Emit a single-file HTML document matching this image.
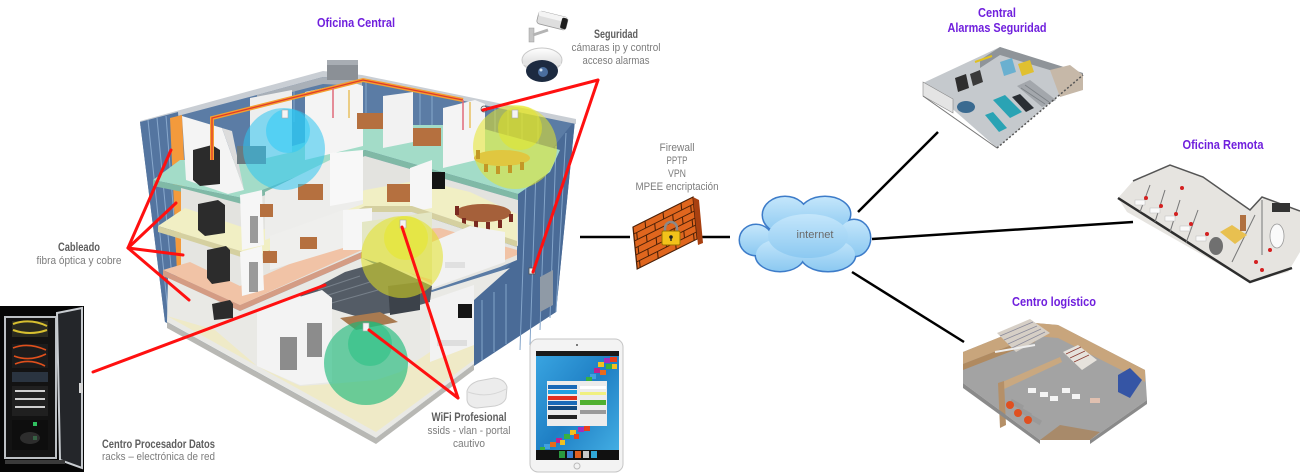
<!DOCTYPE html>
<html><head><meta charset="utf-8">
<style>
html,body{margin:0;padding:0;background:#fff;}
svg{display:block;}
text{font-family:"Liberation Sans",Arial,sans-serif;}
</style></head><body>
<svg xmlns="http://www.w3.org/2000/svg" width="1300" height="474" viewBox="0 0 1300 474">
<defs>
<linearGradient id="cloudG" x1="0" y1="0" x2="0" y2="1"><stop offset="0" stop-color="#c4e6fb"/><stop offset="1" stop-color="#8cc9f1"/></linearGradient>
<linearGradient id="scrG" x1="0" y1="0" x2="1" y2="1"><stop offset="0" stop-color="#3aa6e2"/><stop offset="0.5" stop-color="#1f7fc4"/><stop offset="1" stop-color="#46b2e6"/></linearGradient>
<linearGradient id="domeG" x1="0" y1="0" x2="0" y2="1"><stop offset="0" stop-color="#ffffff"/><stop offset="1" stop-color="#cfcfcf"/></linearGradient>
</defs>
<rect width="1300" height="474" fill="#fff"/>

<!-- ================= BUILDING ================= -->
<polygon points="140,122 257,90 323,72 362,76 575,120 556,312 474,364 376,438 165,322" fill="#5b7ca5"/>
<polygon points="518,192 575,120 556,312 474,366 474,300 512,262 518,247" fill="#4a6b97"/>
<g stroke="#83a4c9" stroke-width="1">
<line x1="526" y1="182" x2="520" y2="350"/><line x1="536" y1="170" x2="530" y2="345"/><line x1="546" y1="158" x2="540" y2="330"/><line x1="556" y1="146" x2="550" y2="318"/><line x1="566" y1="133" x2="556" y2="312"/>
<line x1="482" y1="300" x2="482" y2="360"/><line x1="494" y1="292" x2="494" y2="352"/><line x1="506" y1="284" x2="506" y2="344"/>
</g>
<polygon points="540,277 553,270 553,305 540,312" fill="#8f9aa6"/>
<g stroke="#86a7cb" stroke-width="1">
<line x1="262" y1="90" x2="262" y2="130"/><line x1="272" y1="88" x2="272" y2="128"/><line x1="282" y1="85" x2="282" y2="125"/><line x1="294" y1="82" x2="294" y2="122"/><line x1="366" y1="78" x2="366" y2="120"/><line x1="420" y1="88" x2="420" y2="128"/><line x1="432" y1="91" x2="432" y2="128"/><line x1="495" y1="104" x2="495" y2="150"/><line x1="508" y1="107" x2="508" y2="150"/><line x1="522" y1="110" x2="522" y2="150"/><line x1="538" y1="113" x2="538" y2="160"/>
</g>
<polygon points="140,121 257,89 323,71 362,75 576,119 576,124 362,80 323,77 257,95 140,126" fill="#c9ced4"/>
<polygon points="257,95 323,77 362,80 362,86 323,84 257,101" fill="#a9b0b8"/>
<rect x="327" y="60" width="31" height="20" fill="#8b9096"/>
<rect x="327" y="60" width="31" height="5" fill="#a8adb3"/>
<polygon points="140,122 178,112 190,318 165,322" fill="#5475a0"/>
<g stroke="#88a8cc" stroke-width="1"><line x1="148" y1="120" x2="169" y2="321"/><line x1="157" y1="118" x2="176" y2="320"/><line x1="166" y1="116" x2="182" y2="319"/></g>
<polygon points="170,118 182,115 191,316 179,318" fill="#f39a3c"/>

<!-- LEVEL 4 -->
<polygon points="153,180 242,198 365,150 518,194 550,172 560,150 470,125 365,125 244,160 180,160" fill="#a3dcc8"/>
<polygon points="182,116 222,128 244,190 228,194 186,180" fill="#f4f4f4"/>
<polygon points="222,128 232,131 244,190" fill="#dcdcdc"/>
<polygon points="250,98 292,90 292,152 250,162" fill="#eeeeee"/>
<polygon points="305,92 352,82 363,86 363,146 305,160" fill="#f4f4f4"/>
<polygon points="383,96 413,92 413,142 383,148" fill="#f2f2f2"/>
<polygon points="443,108 475,100 485,104 485,158 443,168" fill="#f4f4f4"/>
<rect x="237" y="146" width="29" height="18" fill="#6b7a80"/>
<rect x="357" y="113" width="26" height="16" fill="#b5703f"/>
<rect x="413" y="128" width="28" height="18" fill="#b5703f"/>
<ellipse cx="502" cy="158" rx="28" ry="8" fill="#d9a35c"/>
<g fill="#9a3a22"><rect x="476" y="150" width="4" height="9"/><rect x="484" y="164" width="4" height="8"/><rect x="496" y="166" width="4" height="8"/><rect x="508" y="165" width="4" height="8"/><rect x="520" y="162" width="4" height="8"/></g>
<polygon points="193,150 212,145 220,150 220,184 200,186 193,180" fill="#2b2b2b"/>
<polyline points="212,160 212,118 363,80 463,100" fill="none" stroke="#f5a030" stroke-width="4"/>
<polyline points="212,160 212,118 363,80 463,100" fill="none" stroke="#e03a2a" stroke-width="1.3"/>
<line x1="333" y1="88" x2="333" y2="118" stroke="#e06a7a" stroke-width="1.5"/>
<line x1="349" y1="90" x2="349" y2="118" stroke="#e8c060" stroke-width="1.5"/>
<line x1="463" y1="100" x2="463" y2="130" stroke="#e06a7a" stroke-width="1.5"/>
<line x1="470" y1="102" x2="470" y2="128" stroke="#e8c060" stroke-width="1.5"/>
<polygon points="153,180 242,198 365,150 518,194 518,200 365,156 242,204 153,186" fill="#80b9a6"/>

<!-- LEVEL 3 -->
<polygon points="181,188 242,204 365,156 518,200 518,246 412,212 366,212 257,262 181,236" fill="#e3e3df"/>
<polygon points="158,226 257,256 365,206 412,206 517,241 517,214 470,192 420,180 365,190 257,232 185,208" fill="#f1efc4"/>
<polygon points="240,195 262,190 264,245 242,250" fill="#f6f6f6"/>
<rect x="250" y="216" width="8" height="27" fill="#9a9a9a"/>
<polygon points="265,192 330,160 363,154 363,204 265,240" fill="#ededeb"/>
<polygon points="330,153 363,150 363,200 330,206" fill="#f8f8f8"/>
<polygon points="410,168 432,160 432,208 410,212" fill="#f6f6f6"/>
<rect x="432" y="172" width="13" height="17" fill="#141414"/>
<rect x="298" y="184" width="25" height="16" fill="#b5703f"/>
<rect x="387" y="184" width="23" height="18" fill="#b5703f"/>
<rect x="260" y="204" width="13" height="13" fill="#b5703f"/>
<ellipse cx="483" cy="213" rx="28" ry="9" fill="#a5603a"/>
<g fill="#7a2a20"><rect x="455" y="206" width="4" height="9"/><rect x="462" y="218" width="4" height="8"/><rect x="474" y="221" width="4" height="8"/><rect x="486" y="222" width="4" height="8"/><rect x="498" y="220" width="4" height="8"/><rect x="509" y="214" width="4" height="8"/></g>
<polygon points="198,204 218,200 225,205 225,233 205,236 198,230" fill="#2c2c2c"/>
<polygon points="158,226 257,256 365,206 412,206 517,241 517,247 412,212 365,212 257,262 158,232" fill="#d5d0a0"/>

<!-- LEVEL 2 -->
<polygon points="181,238 257,262 365,212 412,212 517,247 517,260 500,267 432,290 362,252 240,306 181,278" fill="#e5e5e1"/>
<polygon points="163,270 240,305 362,250 432,284 500,262 517,255 517,250 440,228 362,232 240,286 190,262" fill="#f1c3a6"/>
<polygon points="240,252 262,246 264,290 242,296" fill="#f6f6f6"/>
<rect x="249" y="262" width="9" height="30" fill="#9a9a9a"/>
<polygon points="270,236 343,210 343,248 270,270" fill="#efefed"/>
<polygon points="343,210 372,208 372,250 343,250" fill="#f6f6f6"/>
<polygon points="362,222 432,212 432,280 362,258" fill="#e4e7c4"/>
<polygon points="432,242 470,226 505,232 505,262 432,288" fill="#f2f2f2"/>
<rect x="263" y="251" width="14" height="12" fill="#b5703f"/>
<rect x="300" y="237" width="17" height="12" fill="#b5703f"/>
<rect x="445" y="262" width="20" height="6" fill="#e0e0e0"/>
<polygon points="207,250 226,246 230,250 230,281 212,284 207,278" fill="#2c2c2c"/>
<polygon points="163,270 240,305 362,252 362,258 240,311 163,276" fill="#d49c84"/>

<!-- LEVEL 1 -->
<polygon points="168,278 240,311 362,258 432,292 510,268 474,300 474,364 376,438 167,322" fill="#e9e9e5"/>
<polygon points="167,316 376,432 474,360 474,340 430,352 400,372 376,380 330,384 300,386 257,366 215,330" fill="#efeac7"/>
<polygon points="300,296 345,272 380,262 432,286 430,302 395,312 362,318 322,306" fill="#545c66"/>
<polygon points="388,286 420,282 420,310 390,315" fill="#3c424a"/>
<g stroke="#77808a" stroke-width="1"><line x1="318" y1="290" x2="360" y2="276"/><line x1="322" y1="297" x2="370" y2="282"/><line x1="328" y1="304" x2="378" y2="290"/></g>
<polygon points="340,318 380,312 398,322 356,330" fill="#a87a50"/>
<polygon points="257,310 322,290 332,298 332,382 300,385 257,366" fill="#f3f3f3"/>
<rect x="280" y="337" width="17" height="33" fill="#8c8c8c"/>
<rect x="307" y="323" width="15" height="34" fill="#8c8c8c"/>
<polygon points="430,300 474,285 474,345 430,362" fill="#f2f2f2"/>
<rect x="458" y="304" width="14" height="14" fill="#151515"/>
<rect x="437" y="340" width="30" height="6" fill="#dedede"/>
<polygon points="212,304 230,300 233,304 233,318 214,320" fill="#2c2c2c"/>
<polygon points="167,322 376,438 474,364 474,370 376,444 167,328" fill="#b8b8b4"/>

<!-- wifi circles -->
<circle cx="284" cy="149" r="41" fill="#2ec4f0" opacity="0.55"/>
<circle cx="288" cy="131" r="22" fill="#2ecaf5" opacity="0.55"/>
<circle cx="515" cy="147" r="42" fill="#e6e62a" opacity="0.55"/>
<circle cx="520" cy="128" r="22" fill="#e8e820" opacity="0.5"/>
<circle cx="402" cy="257" r="41" fill="#e2e224" opacity="0.55"/>
<circle cx="406" cy="238" r="22" fill="#e8e820" opacity="0.5"/>
<circle cx="366" cy="363" r="42" fill="#18b878" opacity="0.62"/>
<circle cx="370" cy="344" r="22" fill="#20c080" opacity="0.5"/>
<g fill="#f4f4f4" stroke="#aaa" stroke-width="0.6">
<rect x="282" y="110" width="6" height="8"/><rect x="512" y="110" width="6" height="8"/><rect x="400" y="220" width="6" height="8"/><rect x="363" y="323" width="6" height="8"/>
</g>
<circle cx="484" cy="109" r="3" fill="#f0f0f0" stroke="#555" stroke-width="0.8"/>
<rect x="529" y="268" width="6" height="6" fill="#f0f0f0" stroke="#555" stroke-width="0.8"/>

<!-- ceiling AP -->
<path d="M467 391 Q469 384 478 381 L494 378 Q505 379 507 387 L506 398 Q504 404 495 406 L477 408 Q468 407 467 400 Z" fill="#ececec" stroke="#cdcdcd"/>
<path d="M468 392 Q488 399 506 389" stroke="#d6d6d6" fill="none"/>

<!-- red lines -->
<g stroke="#ff1010" stroke-width="3" stroke-linecap="round">
<line x1="128" y1="248" x2="171" y2="150"/>
<line x1="128" y1="248" x2="176" y2="203"/>
<line x1="128" y1="248" x2="183" y2="255"/>
<line x1="128" y1="248" x2="189" y2="300"/>
<line x1="93" y1="372" x2="325" y2="285"/>
<line x1="598" y1="80" x2="483" y2="110"/>
<line x1="598" y1="80" x2="533" y2="272"/>
<line x1="458" y1="398" x2="402" y2="227"/>
<line x1="458" y1="398" x2="369" y2="330"/>
</g>

<!-- ================= RACK ================= -->
<rect x="0" y="306" width="84" height="166" fill="#060606"/>
<rect x="5" y="317" width="51" height="141" fill="#131313" stroke="#bcc0c4" stroke-width="2"/>
<rect x="12" y="321" width="36" height="16" fill="#2a2a20"/>
<path d="M13 324 Q30 318 47 326 M13 330 Q30 336 47 330" stroke="#d8c030" stroke-width="2" fill="none"/>
<rect x="12" y="344" width="36" height="24" fill="#1c1c1c"/>
<path d="M13 348 Q28 342 46 350 M14 356 Q30 362 46 354 M15 364 Q30 358 45 366" stroke="#e0501c" stroke-width="1.6" fill="none"/>
<rect x="12" y="372" width="36" height="10" fill="#2a3440"/>
<rect x="12" y="386" width="36" height="30" fill="#202020"/>
<g fill="#cfcfcf"><rect x="15" y="390" width="30" height="2"/><rect x="15" y="398" width="30" height="2"/><rect x="15" y="406" width="30" height="2"/></g>
<rect x="12" y="420" width="36" height="30" fill="#0e0e0e"/>
<rect x="33" y="422" width="4" height="4" fill="#30c060"/><rect x="33" y="436" width="4" height="4" fill="#30c060"/>
<ellipse cx="30" cy="438" rx="10" ry="6" fill="#3a3a3a" opacity="0.7"/>
<polygon points="57,313 82,308 82,468 60,460" fill="#24262a" stroke="#c8ccd0" stroke-width="2"/>
<rect x="79" y="383" width="4" height="10" fill="#d8d8d8"/>
<rect x="5" y="460" width="60" height="4" fill="#3a3a3a"/>

<!-- ================= CAMERAS ================= -->
<g transform="rotate(14 552 22)">
<rect x="537" y="14" width="30" height="13" rx="3" fill="#dedede" stroke="#9a9a9a" stroke-width="0.8"/>
<rect x="537" y="14" width="30" height="5" rx="2" fill="#f4f4f4"/>
<rect x="561" y="15" width="6" height="11" rx="2" fill="#1e1e1e"/>
</g>
<rect x="529" y="28" width="5" height="14" fill="#c4c4c4" stroke="#999" stroke-width="0.5"/>
<path d="M533 35 L548 30" stroke="#b4b4b4" stroke-width="3"/>
<ellipse cx="542" cy="60" rx="20" ry="12" fill="url(#domeG)" stroke="#c8c8c8"/>
<rect x="523" y="61" width="38" height="4" fill="#e4e4e4"/>
<ellipse cx="542" cy="71" rx="16" ry="11" fill="#1c2a40"/>
<circle cx="543" cy="72" r="5" fill="#4a6e9e"/>
<circle cx="541" cy="70" r="1.5" fill="#cfe0f0"/>

<!-- ================= TABLET ================= -->
<rect x="530" y="339" width="93" height="133" rx="8" fill="#f3f3f3" stroke="#c6c6c6"/>
<circle cx="577" cy="345" r="1" fill="#555"/>
<rect x="536" y="351" width="83" height="109" fill="url(#scrG)"/>
<rect x="536" y="351" width="83" height="5" fill="#1a1a1a"/>
<g>
<rect x="610" y="357" width="7" height="5" fill="#e8401c"/><rect x="604" y="358" width="6" height="5" fill="#a030c0"/><rect x="598" y="362" width="6" height="5" fill="#f2c020"/><rect x="606" y="364" width="6" height="5" fill="#38b040"/><rect x="594" y="368" width="6" height="5" fill="#c02090"/><rect x="600" y="370" width="6" height="5" fill="#e86a1c"/><rect x="590" y="374" width="6" height="5" fill="#40a0e0"/><rect x="612" y="364" width="5" height="5" fill="#f2c020"/><rect x="586" y="377" width="6" height="4" fill="#38b040"/>
<rect x="584" y="426" width="6" height="5" fill="#e8401c"/><rect x="578" y="427" width="6" height="5" fill="#a030c0"/><rect x="570" y="430" width="6" height="5" fill="#f2c020"/><rect x="564" y="434" width="6" height="5" fill="#38b040"/><rect x="556" y="438" width="6" height="5" fill="#c02090"/><rect x="550" y="442" width="6" height="5" fill="#e86a1c"/><rect x="544" y="444" width="6" height="5" fill="#40a0e0"/><rect x="560" y="440" width="5" height="5" fill="#f2c020"/><rect x="574" y="434" width="5" height="5" fill="#e8401c"/><rect x="540" y="447" width="5" height="3" fill="#38b040"/>
</g>
<rect x="547" y="381" width="60" height="45" fill="#ececec"/>
<rect x="548" y="385" width="29" height="4" fill="#1a6ab8"/>
<rect x="548" y="390" width="29" height="4" fill="#20a0e0"/>
<rect x="548" y="396" width="29" height="4" fill="#e03020"/>
<rect x="548" y="401" width="29" height="4" fill="#1a6ab8"/>
<rect x="548" y="406" width="29" height="4" fill="#134a80"/>
<rect x="548" y="415" width="29" height="4" fill="#222"/>
<rect x="580" y="386" width="26" height="3" fill="#fff"/>
<rect x="580" y="392" width="26" height="3" fill="#f0f080"/>
<rect x="580" y="400" width="26" height="5" fill="#50b030"/>
<rect x="580" y="410" width="26" height="4" fill="#999"/>
<rect x="536" y="450" width="83" height="10" fill="#111"/>
<rect x="559" y="451" width="6" height="7" fill="#2a9a40"/><rect x="567" y="451" width="6" height="7" fill="#3a80d0"/><rect x="575" y="451" width="6" height="7" fill="#e06020"/><rect x="583" y="451" width="6" height="7" fill="#c8c8c8"/><rect x="591" y="451" width="6" height="7" fill="#30a8d8"/>
<circle cx="577" cy="466" r="3" fill="none" stroke="#bbb"/>

<!-- ================= FIREWALL ================= -->
<line x1="580" y1="237" x2="630" y2="237" stroke="#000" stroke-width="2.5"/>
<line x1="700" y1="237" x2="730" y2="237" stroke="#000" stroke-width="2.5"/>
<g transform="matrix(1,-0.5,0.1,1,633,227)">
<rect x="0" y="0" width="60" height="42" fill="#e0661e" stroke="#4a2008" stroke-width="1.2"/>
<g stroke="#4a2008" stroke-width="1">
<line x1="0" y1="7" x2="60" y2="7"/><line x1="0" y1="14" x2="60" y2="14"/><line x1="0" y1="21" x2="60" y2="21"/><line x1="0" y1="28" x2="60" y2="28"/><line x1="0" y1="35" x2="60" y2="35"/>
<line x1="12" y1="0" x2="12" y2="7"/><line x1="30" y1="0" x2="30" y2="7"/><line x1="48" y1="0" x2="48" y2="7"/>
<line x1="3" y1="7" x2="3" y2="14"/><line x1="21" y1="7" x2="21" y2="14"/><line x1="39" y1="7" x2="39" y2="14"/><line x1="57" y1="7" x2="57" y2="14"/>
<line x1="12" y1="14" x2="12" y2="21"/><line x1="30" y1="14" x2="30" y2="21"/><line x1="48" y1="14" x2="48" y2="21"/>
<line x1="3" y1="21" x2="3" y2="28"/><line x1="21" y1="21" x2="21" y2="28"/><line x1="39" y1="21" x2="39" y2="28"/><line x1="57" y1="21" x2="57" y2="28"/>
<line x1="12" y1="28" x2="12" y2="35"/><line x1="30" y1="28" x2="30" y2="35"/><line x1="48" y1="28" x2="48" y2="35"/>
<line x1="3" y1="35" x2="3" y2="42"/><line x1="21" y1="35" x2="21" y2="42"/><line x1="39" y1="35" x2="39" y2="42"/><line x1="57" y1="35" x2="57" y2="42"/>
</g>
</g>
<polygon points="693,197 699,200 703,243 698,245" fill="#a84010"/>
<path d="M665 232 v-4 a6 6 0 0 1 12 0 v4" fill="none" stroke="#8a8a8a" stroke-width="2.5"/>
<rect x="662" y="231" width="18" height="14" rx="1.5" fill="#f2c21a" stroke="#9a7200"/>
<circle cx="671" cy="237" r="1.8" fill="#222"/><rect x="670.3" y="237" width="1.4" height="4" fill="#222"/>

<!-- ================= CLOUD ================= -->
<g stroke="#3d7cc9" stroke-width="3">
<ellipse cx="785" cy="215" rx="22" ry="18"/><ellipse cx="825" cy="214" rx="25" ry="17"/><ellipse cx="854" cy="238" rx="16" ry="18"/><ellipse cx="756" cy="240" rx="16" ry="15"/><ellipse cx="780" cy="255" rx="24" ry="16"/><ellipse cx="828" cy="255" rx="27" ry="16"/><ellipse cx="808" cy="236" rx="40" ry="22"/>
</g>
<g fill="url(#cloudG)">
<ellipse cx="785" cy="215" rx="22" ry="18"/><ellipse cx="825" cy="214" rx="25" ry="17"/><ellipse cx="854" cy="238" rx="16" ry="18"/><ellipse cx="756" cy="240" rx="16" ry="15"/><ellipse cx="780" cy="255" rx="24" ry="16"/><ellipse cx="828" cy="255" rx="27" ry="16"/><ellipse cx="808" cy="236" rx="40" ry="22"/>
</g>

<g stroke="#000" stroke-width="2.5">
<line x1="858" y1="212" x2="938" y2="132"/>
<line x1="872" y1="239" x2="1133" y2="222"/>
<line x1="852" y1="272" x2="964" y2="342"/>
</g>

<!-- ================= CENTRAL ALARMAS IMAGE ================= -->
<polygon points="923,83 1000,47 1083,75 997,148" fill="#c5c9cd"/>
<polygon points="980,60 1000,47 1083,73 1083,80 1000,55 980,68" fill="#8f9499"/>
<polygon points="923,82 953,99 953,113 923,96" fill="#e4e4e4" stroke="#888" stroke-width="0.6"/>
<polygon points="955,78 966,74 969,88 958,92" fill="#2e2e2e"/>
<polygon points="970,74 980,70 983,82 973,86" fill="#3a3a3a"/>
<line x1="975" y1="62" x2="992" y2="56" stroke="#e0c020" stroke-width="2"/>
<polygon points="1000,62 1012,58 1016,72 1004,76" fill="#6ab0d0"/>
<polygon points="1018,64 1030,60 1034,72 1022,76" fill="#e0c030"/>
<polygon points="1017,86 1030,80 1056,100 1042,107" fill="#a3a7ac"/>
<g stroke="#7c8186" stroke-width="0.8"><line x1="1021" y1="88" x2="1045" y2="104"/><line x1="1025" y1="85" x2="1049" y2="102"/></g>
<polygon points="1012,97 1020,94 1034,108 1026,112" fill="#2a2e33"/>
<polygon points="993,100 1005,95 1022,112 1010,118" fill="#2aa3b4"/>
<polygon points="985,115 993,112 1007,128 999,132" fill="#2aa3b4"/>
<ellipse cx="966" cy="107" rx="9" ry="6" fill="#3a6a90"/>
<polygon points="1050,70 1070,65 1083,75 1083,90 1060,97" fill="#c6b8a8"/>
<line x1="997" y1="148" x2="1083" y2="75" stroke="#555" stroke-width="1.5" stroke-dasharray="2,2"/>
<line x1="923" y1="96" x2="997" y2="148" stroke="#777" stroke-width="1"/>

<!-- ================= OFICINA REMOTA IMAGE ================= -->
<polygon points="1118,198 1133,181 1170,165 1203,177 1250,211 1262,197 1300,211 1300,252 1288,272 1250,282 1127,212" fill="#e6e4e0"/>
<polyline points="1118,198 1250,282 1292,268" fill="none" stroke="#2e2e2e" stroke-width="2.5"/>
<polyline points="1133,181 1170,165 1203,177 1250,210 1262,197 1300,211" fill="none" stroke="#555" stroke-width="1.5"/>
<g stroke="#777" stroke-width="1"><line x1="1150" y1="185" x2="1140" y2="212"/><line x1="1165" y1="190" x2="1155" y2="222"/><line x1="1180" y1="200" x2="1170" y2="232"/><line x1="1198" y1="210" x2="1186" y2="243"/><line x1="1255" y1="215" x2="1232" y2="262"/><line x1="1262" y1="200" x2="1262" y2="255"/></g>
<g fill="#fafafa" stroke="#bbb" stroke-width="0.5"><rect x="1135" y="200" width="10" height="5"/><rect x="1150" y="208" width="10" height="5"/><rect x="1165" y="216" width="10" height="5"/><rect x="1180" y="226" width="10" height="5"/><rect x="1196" y="236" width="10" height="5"/></g>
<g fill="#d42020"><circle cx="1146" cy="198" r="2"/><circle cx="1161" cy="206" r="2"/><circle cx="1176" cy="214" r="2"/><circle cx="1191" cy="224" r="2"/><circle cx="1207" cy="234" r="2"/><circle cx="1256" cy="262" r="2"/><circle cx="1262" cy="270" r="2"/><circle cx="1270" cy="250" r="2"/><circle cx="1182" cy="188" r="2"/></g>
<polygon points="1220,232 1232,225 1247,235 1235,244" fill="#e8c050"/>
<ellipse cx="1216" cy="246" rx="7" ry="9" fill="#707070"/>
<ellipse cx="1277" cy="236" rx="7" ry="12" fill="#fafafa" stroke="#999" stroke-width="0.8"/>
<rect x="1272" y="203" width="18" height="9" fill="#333"/>
<rect x="1240" y="215" width="6" height="16" fill="#b07040"/>

<!-- ================= CENTRO LOGISTICO IMAGE ================= -->
<polygon points="963,352 1035,323 1058,325 1145,370 1147,400 1090,440 1040,440 963,383" fill="#a3a3a3"/>
<polygon points="963,352 1035,323 1058,325 1145,370 1145,382 1058,338 1035,336 963,364" fill="#c8a57c"/>
<polygon points="963,364 1035,336 1035,342 963,370" fill="#b08a60"/>
<polygon points="997,333 1030,319 1050,333 1016,352" fill="#d6cfc6"/>
<g stroke="#8a8a9a" stroke-width="0.8"><line x1="1000" y1="336" x2="1033" y2="322"/><line x1="1004" y1="340" x2="1037" y2="326"/><line x1="1008" y1="344" x2="1041" y2="329"/><line x1="1012" y1="348" x2="1045" y2="332"/></g>
<line x1="995" y1="352" x2="1035" y2="345" stroke="#eee" stroke-width="2"/>
<polygon points="1000,383 1060,357 1062,362 1002,390" fill="#c9a880"/>
<polygon points="998,383 1004,381 1006,425 1000,428" fill="#b59068"/>
<polygon points="1063,352 1078,345 1097,360 1082,370" fill="#e6e2dc"/>
<g stroke="#8a3a30" stroke-width="0.8"><line x1="1066" y1="354" x2="1081" y2="347"/><line x1="1070" y1="358" x2="1085" y2="351"/><line x1="1074" y1="362" x2="1089" y2="355"/></g>
<polygon points="1118,375 1130,368 1142,380 1130,398 1118,392" fill="#3555a5"/>
<g fill="#f4f4f4"><rect x="1040" y="392" width="8" height="5"/><rect x="1050" y="396" width="8" height="5"/><rect x="1062" y="388" width="8" height="5"/><rect x="1072" y="394" width="8" height="5"/><rect x="1090" y="398" width="10" height="5" fill="#e0c0b0"/><rect x="1028" y="388" width="8" height="5"/></g>
<g fill="#9a9a9a"><rect x="1010" y="402" width="14" height="5" transform="rotate(30 1017 404)"/><rect x="1018" y="410" width="14" height="5" transform="rotate(30 1025 412)"/><rect x="1028" y="417" width="14" height="5" transform="rotate(30 1035 419)"/></g>
<circle cx="1010" cy="405" r="4" fill="#e05020"/><circle cx="1018" cy="413" r="4" fill="#e05020"/><circle cx="1028" cy="420" r="4" fill="#e05020"/>
<polygon points="1040,440 1060,425 1100,432 1090,440" fill="#a88a6a"/>
<polygon points="963,383 1040,440 1040,444 963,388" fill="#8a8a8a"/>
<polygon points="1090,440 1147,400 1147,404 1090,444" fill="#8a8a8a"/>

<!-- ================= TEXT ================= -->
<g font-weight="bold" fill="#7020dd" text-anchor="middle" font-size="13">
<text x="356" y="27" textLength="78" lengthAdjust="spacingAndGlyphs">Oficina Central</text>
<text x="997" y="17" textLength="38" lengthAdjust="spacingAndGlyphs">Central</text>
<text x="997" y="32" textLength="99" lengthAdjust="spacingAndGlyphs">Alarmas Seguridad</text>
<text x="1223" y="149" textLength="81" lengthAdjust="spacingAndGlyphs">Oficina Remota</text>
<text x="1054" y="306" textLength="84" lengthAdjust="spacingAndGlyphs">Centro logístico</text>
</g>
<g font-weight="bold" fill="#5e5e5e" font-size="11.5">
<text x="616" y="38" text-anchor="middle" textLength="44" lengthAdjust="spacingAndGlyphs">Seguridad</text>
<text x="79" y="251" text-anchor="middle" textLength="42" lengthAdjust="spacingAndGlyphs">Cableado</text>
<text x="102" y="448" textLength="113" lengthAdjust="spacingAndGlyphs">Centro Procesador Datos</text>
<text x="469" y="421" text-anchor="middle" textLength="75" lengthAdjust="spacingAndGlyphs">WiFi Profesional</text>
</g>
<g fill="#7c7c7c" font-size="11">
<text x="616" y="51" text-anchor="middle" textLength="89" lengthAdjust="spacingAndGlyphs">cámaras ip y control</text>
<text x="616" y="64" text-anchor="middle" textLength="67" lengthAdjust="spacingAndGlyphs">acceso alarmas</text>
<text x="79" y="264" text-anchor="middle" textLength="85" lengthAdjust="spacingAndGlyphs">fibra óptica y cobre</text>
<text x="102" y="460" textLength="113" lengthAdjust="spacingAndGlyphs">racks – electrónica de red</text>
<text x="469" y="434" text-anchor="middle" textLength="83" lengthAdjust="spacingAndGlyphs">ssids - vlan - portal</text>
<text x="469" y="447" text-anchor="middle" textLength="32" lengthAdjust="spacingAndGlyphs">cautivo</text>
<text x="677" y="151" text-anchor="middle" textLength="35" lengthAdjust="spacingAndGlyphs">Firewall</text>
<text x="677" y="164" text-anchor="middle" textLength="21" lengthAdjust="spacingAndGlyphs">PPTP</text>
<text x="677" y="177" text-anchor="middle" textLength="18" lengthAdjust="spacingAndGlyphs">VPN</text>
<text x="677" y="190" text-anchor="middle" textLength="83" lengthAdjust="spacingAndGlyphs">MPEE encriptación</text>
<text x="815" y="238" text-anchor="middle" fill="#6a6a6a" textLength="37" lengthAdjust="spacingAndGlyphs">internet</text>
</g>
</svg>
</body></html>
